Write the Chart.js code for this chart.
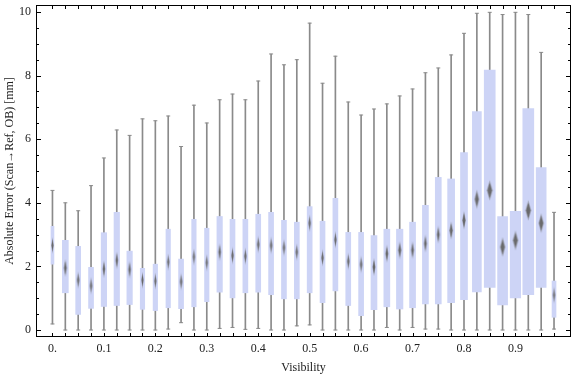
<!DOCTYPE html>
<html>
<head>
<meta charset="utf-8">
<script src="https://cdn.jsdelivr.net/npm/chart.js@4.4.1/dist/chart.umd.min.js"></script>
<style>
  html, body { margin: 0; padding: 0; background: #fff; }
  #wrap { width: 576px; height: 377px; }
</style>
</head>
<body>
<div id="wrap"><canvas id="boxChart"></canvas></div>
<script>
// visibility bins (one box per bin)
const visibility = [0, 0.025, 0.05, 0.075, 0.1, 0.125, 0.15, 0.175, 0.2, 0.225,
                    0.25, 0.275, 0.3, 0.325, 0.35, 0.375, 0.4, 0.425, 0.45, 0.475,
                    0.5, 0.525, 0.55, 0.575, 0.6, 0.625, 0.65, 0.675, 0.7, 0.725,
                    0.75, 0.775, 0.8, 0.825, 0.85, 0.875, 0.9, 0.925, 0.95, 0.975];

// absolute error [mm]
const minVals = [0.19, 0, 0, 0, 0, 0, 0, 0, 0, 0.03,
                 0.23, 0, 0, 0.05, 0.08, 0.02, 0.05, 0, 0, 0.13,
                 0.16, 0, 0, 0, 0, 0, 0.08, 0, 0.08, 0.03,
                 0.03, 0, 0, 0, 0, 0, 0, 0, 0, 0.03];
const q1Vals = [2.07, 1.17, 0.49, 0.68, 0.74, 0.77, 0.80, 0.65, 0.61, 0.70,
                0.67, 0.73, 0.89, 1.19, 1.01, 1.17, 1.19, 1.11, 0.98, 0.98,
                1.17, 0.86, 1.23, 0.77, 0.45, 0.64, 0.73, 0.66, 0.70, 0.82,
                0.82, 0.86, 0.95, 1.20, 1.34, 0.79, 1.01, 1.11, 1.34, 0.40];
const medians = [2.66, 1.95, 1.57, 1.39, 1.92, 2.19, 1.90, 1.57, 1.54, 2.14,
                 1.52, 2.30, 2.12, 2.45, 2.34, 2.32, 2.69, 2.66, 2.59, 2.45,
                 3.36, 2.27, 2.84, 2.16, 2.06, 1.98, 2.40, 2.51, 2.51, 2.72,
                 3.00, 3.13, 3.45, 4.11, 4.39, 2.61, 2.82, 3.76, 3.36, 1.10];
const q3Vals = [3.26, 2.82, 2.63, 1.97, 3.06, 3.70, 2.48, 1.94, 2.07, 3.17,
                2.23, 3.48, 3.20, 3.57, 3.48, 3.48, 3.64, 3.70, 3.45, 3.39,
                3.88, 3.42, 4.14, 3.07, 3.07, 2.97, 3.17, 3.17, 3.39, 3.92,
                4.80, 4.75, 5.58, 6.87, 8.17, 3.57, 3.73, 6.96, 5.11, 1.54];
const maxVals = [4.39, 4.00, 3.75, 4.54, 5.41, 6.29, 6.12, 6.64, 6.58, 6.73,
                 5.77, 7.07, 6.51, 7.24, 7.42, 7.24, 7.83, 8.68, 8.34, 8.50,
                 9.65, 7.76, 8.61, 7.17, 6.76, 6.95, 7.11, 7.36, 7.58, 8.09,
                 8.24, 8.65, 9.33, 9.96, 9.99, 9.92, 9.99, 9.92, 8.73, 3.70];

const xTicks = [0, 0.1, 0.2, 0.3, 0.4, 0.5, 0.6, 0.7, 0.8, 0.9];
const yTicks = [0, 2, 4, 6, 8, 10];

// drawn box widths in px (style only)
const boxWidths = [3, 6, 5, 5, 5.5, 5.5, 5.5, 4.5, 4.5, 4.5,
                   5, 4.5, 4.5, 5.5, 5, 5, 5, 5, 5, 5,
                   5, 5, 5, 5, 5, 6, 6, 6.5, 6, 6,
                   6, 7, 7, 9, 11, 10, 10.5, 11, 10, 4];

const serif = "'Liberation Serif', 'DejaVu Serif', serif";
const boxColor = 'rgb(205, 212, 246)';
const whiskerColor = '#8a8a8a';

const diamondCache = {};
function diamond(w) {
    if (diamondCache[w]) return diamondCache[w];
    const dw = Math.max(2.5, w * 0.55);
    const dh = 15 + w * 0.5;
    const c = document.createElement('canvas');
    c.width = Math.ceil(dw) + 2;
    c.height = Math.ceil(dh) + 2;
    const g = c.getContext('2d');
    const cx = c.width / 2, cy = c.height / 2;
    const shape = (sw, sh, col) => {
        g.fillStyle = col;
        g.beginPath();
        g.moveTo(cx, cy - sh / 2);
        g.lineTo(cx + sw / 2, cy);
        g.lineTo(cx, cy + sh / 2);
        g.lineTo(cx - sw / 2, cy);
        g.closePath();
        g.fill();
    };
    shape(dw, dh, 'rgba(115, 115, 115, 0.5)');
    shape(dw * 0.7, dh * 0.75, 'rgba(100, 100, 100, 0.9)');
    diamondCache[w] = c;
    return c;
}

// per-box widths
const boxWidthPlugin = {
    id: 'boxWidth',
    afterDatasetsUpdate(chart) {
        chart.data.datasets.forEach((ds, di) => {
            if (ds.label !== 'box') return;
            chart.getDatasetMeta(di).data.forEach((el, i) => { el.width = boxWidths[i]; });
        });
    }
};

// Mathematica style frame with inward ticks
const framePlugin = {
    id: 'frame',
    afterDatasetsDraw(chart) {
        const { ctx, chartArea: a, scales: { x, y } } = chart;
        ctx.save();
        ctx.strokeStyle = '#000';
        ctx.lineWidth = 1;
        ctx.beginPath();
        visibility.forEach(v => {
            const px = Math.round(x.getPixelForValue(v)) + 0.5;
            ctx.moveTo(px, a.bottom); ctx.lineTo(px, a.bottom - 4);
            ctx.moveTo(px, a.top); ctx.lineTo(px, a.top + 4);
        });
        for (let t = 0; t <= 10; t += 0.5) {
            const py = Math.round(y.getPixelForValue(t)) + 0.5;
            const len = t % 2 === 0 ? 5 : 3;
            ctx.moveTo(a.left, py); ctx.lineTo(a.left + len, py);
            ctx.moveTo(a.right, py); ctx.lineTo(a.right - len, py);
        }
        ctx.stroke();
        ctx.strokeRect(a.left + 0.5, a.top + 0.5, a.right - a.left - 1, a.bottom - a.top - 1);
        ctx.restore();
    }
};

const ctx = document.getElementById('boxChart').getContext('2d');
new Chart(ctx, {
    data: {
        datasets: [
            {
                type: 'scatter',
                label: 'median',
                data: visibility.map((v, i) => ({ x: v, y: medians[i] })),
                pointStyle: c => diamond(boxWidths[c.dataIndex]),
                order: 0
            },
            {
                type: 'scatter',
                label: 'caps',
                data: visibility.map((v, i) => ({ x: v, y: minVals[i] }))
                    .concat(visibility.map((v, i) => ({ x: v, y: maxVals[i] }))),
                pointStyle: 'line',
                radius: 2,
                borderColor: whiskerColor,
                borderWidth: 1,
                order: 1
            },
            {
                type: 'bar',
                label: 'box',
                data: visibility.map((v, i) => ({ x: v, y: [q1Vals[i], q3Vals[i]] })),
                backgroundColor: boxColor,
                borderWidth: 0,
                barThickness: 5,
                grouped: false,
                order: 2
            },
            {
                type: 'bar',
                label: 'whisker',
                data: visibility.map((v, i) => ({ x: v, y: [minVals[i], maxVals[i]] })),
                backgroundColor: whiskerColor,
                borderWidth: 0,
                barThickness: 1,
                grouped: false,
                order: 3
            }
        ]
    },
    options: {
        responsive: true,
        maintainAspectRatio: false,
        devicePixelRatio: 1,
        animation: false,
        layout: { padding: { top: 4, right: 1, left: 0, bottom: 0 } },
        plugins: { legend: { display: false }, tooltip: { enabled: false } },
        scales: {
            x: {
                type: 'linear',
                min: -0.032,
                max: 1.008,
                offset: false,
                grid: { display: false, drawTicks: false, offset: false },
                border: { display: false },
                afterBuildTicks: s => { s.ticks = xTicks.map(v => ({ value: v })); },
                afterFit: s => { s.height = 40; s.paddingLeft = 0; s.paddingRight = 0; },
                ticks: {
                    padding: 5,
                    maxRotation: 0,
                    autoSkip: false,
                    color: '#222',
                    font: { family: serif, size: 12 },
                    callback: v => (v === 0 ? '0.' : String(v))
                },
                title: {
                    display: true,
                    text: 'Visibility',
                    color: '#222',
                    font: { family: serif, size: 12 },
                    padding: { top: 0, bottom: 2 }
                }
            },
            y: {
                type: 'linear',
                min: -0.22,
                max: 10.22,
                grid: { display: false, drawTicks: false },
                border: { display: false },
                afterBuildTicks: s => { s.ticks = yTicks.map(v => ({ value: v })); },
                afterFit: s => { s.width = 36; s.paddingTop = 0; s.paddingBottom = 0; },
                ticks: {
                    padding: 5,
                    color: '#222',
                    font: { family: serif, size: 12 }
                },
                title: {
                    display: true,
                    text: 'Absolute Error (Scan\u2192Ref, OB) [mm]',
                    color: '#222',
                    font: { family: serif, size: 12 },
                    padding: { top: 3, bottom: 0 }
                }
            }
        }
    },
    plugins: [boxWidthPlugin, framePlugin]
});
</script>
</body>
</html>
